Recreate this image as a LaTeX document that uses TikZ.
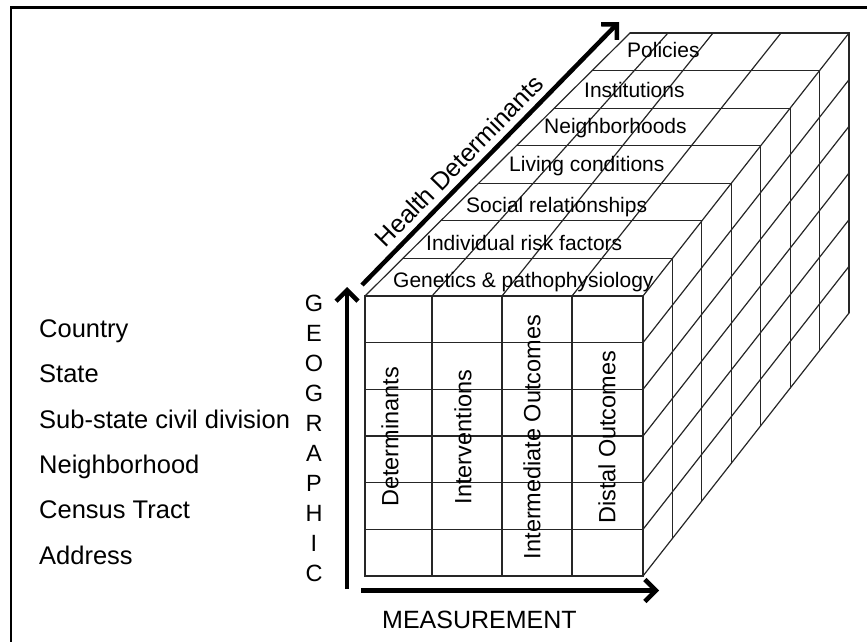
\documentclass[tikz,border=0pt]{standalone}
\usepackage{fontspec}
\setmainfont{Liberation Sans}
\usetikzlibrary{arrows.meta}

\begin{document}
\begin{tikzpicture}[
    x = 1pt, y = -1pt,
    grid/.style = {line width = 1.2pt, black!85, line cap = round},
    axis/.style = {line width = 4.5pt, -{Straight Barb[length = 11pt, width = 22pt]}},
    level/.style = {font = \fontsize{25.5}{25.5}\selectfont, anchor = base west, inner sep = 0pt},
    letter/.style = {font = \fontsize{23.5}{23.5}\selectfont, anchor = base, inner sep = 0pt},
    measure/.style = {font = \fontsize{23.5}{23.5}\selectfont, rotate = 90, inner sep = 0pt},
    slab/.style = {font = \fontsize{21}{21}\selectfont, anchor = base west, inner sep = 0pt}
]
\useasboundingbox (0,0) rectangle (867,642);

% frame
\draw[line width = 2.5pt] (11,642) -- (11,7.3) -- (867,7.3);

% front face
\draw[grid] (365,296) rectangle (643,576);
\foreach \x in {432,502,572}
    \draw[grid] (\x,296) -- (\x,576);
\foreach \i in {1,...,5}
    \draw[grid] (365,296+46.67*\i) -- (643,296+46.67*\i);

% top and right faces
\draw[grid] (365,296) -- (630,33);
\draw[grid] (643,296) -- (849,33);
\draw[grid] (643,576) -- (849,313);
\foreach \a/\b in {432/668, 502/713, 572/781}
    \draw[grid] (\a,296) -- (\b,33);
\foreach \k in {1,...,7}
    \draw[grid] (365+37.86*\k, 296-37.57*\k) -- (643+29.43*\k, 296-37.57*\k)
        -- (643+29.43*\k, 576-37.57*\k);
\foreach \i in {1,...,5}
    \draw[grid] (643,296+46.67*\i) -- (849,33+46.67*\i);

% levels
\node[level] (country) at (39,337) {Country};
\node[level] (state) at (39,382.5) {State};
\node[level] (substate) at (39,428) {Sub-state civil division};
\node[level] (nbhd) at (39,473) {Neighborhood};
\node[level] (census) at (39,518.5) {Census Tract};
\node[level] (address) at (39,564) {Address};

\foreach \l [count = \i from 0] in {G,E,O,G,R,A,P,H,I,C}
    \node[letter] (geo\i) at (314,311+30.1*\i) {\l};

% measurement columns
\node[measure] (determ) at (390,437) {Determinants};
\node[measure] (interv) at (463,437) {Interventions};
\node[measure] (interm) at (532,437) {Intermediate Outcomes};
\node[measure] (distal) at (607,437) {Distal Outcomes};

% determinant slabs
\node[slab] (genetics) at (393,287) {Genetics \& pathophysiology};
\node[slab] (risk) at (426,250) {Individual risk factors};
\node[slab] (social) at (466,212) {Social relationships};
\node[slab] (living) at (509,171) {Living conditions};
\node[slab] (neigh) at (544,133) {Neighborhoods};
\node[slab] (instit) at (584,97) {Institutions};
\node[slab] (policies) at (627,57) {Policies};

% axes
\coordinate (geoS) at (347,589);
\coordinate (geoE) at (347,287);
\coordinate (measS) at (361,590.5);
\coordinate (measE) at (659,590.5);
\coordinate (hdS) at (362,285);
\coordinate (hdE) at (619,22);
\draw[axis] (geoS) -- (geoE);
\draw[axis] (measS) -- (measE);
\draw[axis] (hdS) -- (hdE);

\node[font = \fontsize{25}{25}\selectfont, rotate = 45.7] (hdlabel) at (459,161) {Health Determinants};
\node[font = \fontsize{25}{25}\selectfont, anchor = base west, inner sep = 0pt] (measlabel) at (382,628) {MEASUREMENT};

\end{tikzpicture}
\end{document}
